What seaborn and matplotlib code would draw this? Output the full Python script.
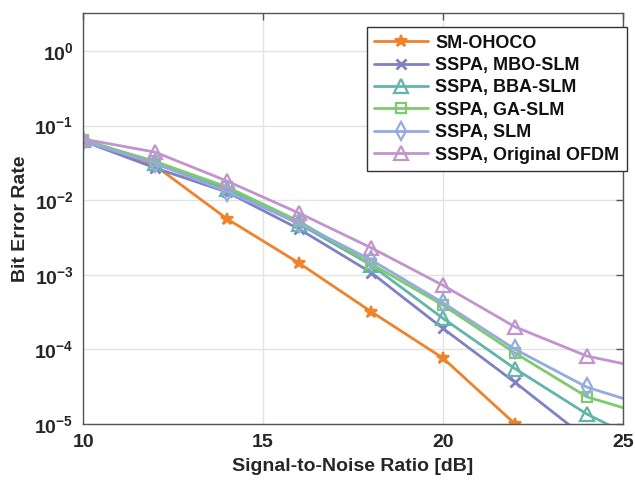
import numpy as np
import pandas as pd
import seaborn as sns
import matplotlib.pyplot as plt
from matplotlib.ticker import LogLocator, NullLocator, FixedLocator

snr = [10, 12, 14, 16, 18, 20, 22, 24, 26]

sm_ohoco = [0.064, 0.029, 5.6e-3, 1.43e-3, 3.2e-4, 7.6e-5, 1.0e-5, 1.0e-6, 1.0e-7]
mbo_slm = [0.062, 0.027, 0.0128, 4.1e-3, 1.07e-3, 1.9e-4, 3.6e-5, 6.3e-6, 1.0e-6]
bba_slm = [0.065, 0.031, 0.014, 4.8e-3, 1.35e-3, 2.6e-4, 5.5e-5, 1.35e-5, 4.5e-6]
ga_slm = [0.064, 0.033, 0.015, 5.2e-3, 1.4e-3, 3.9e-4, 8.9e-5, 2.3e-5, 1.18e-5]
slm = [0.062, 0.031, 0.013, 4.9e-3, 1.58e-3, 4.2e-4, 1.0e-4, 3.1e-5, 1.55e-5]
original = [0.066, 0.044, 0.018, 6.7e-3, 2.3e-3, 7.2e-4, 2.0e-4, 8.1e-5, 5.1e-5]

labels = ['SM-OHOCO', 'SSPA, MBO-SLM', 'SSPA, BBA-SLM', 'SSPA, GA-SLM',
          'SSPA, SLM', 'SSPA, Original OFDM']
series = [sm_ohoco, mbo_slm, bba_slm, ga_slm, slm, original]
colors = ['#F0822A', '#8080C4', '#62B5A8', '#7ECB6E', '#93ABDF', '#C294CF']
markers = ['*', 'x', '^', 's', 'd', '^']
msizes = [9, 7, 10, 7, 9, 10]

sns.set_style('whitegrid')
plt.rcParams['font.family'] = ['Liberation Sans', 'DejaVu Sans']
plt.rcParams['font.weight'] = 'bold'
plt.rcParams['mathtext.default'] = 'bf'

fig = plt.figure(figsize=(6.35, 4.8), dpi=100)
ax = fig.add_axes([0.131, 0.117, 0.850, 0.856])

for vals, lab, c, m, ms in zip(series, labels, colors, markers, msizes):
    df = pd.DataFrame({'snr': snr, 'ber': vals})
    filled = m == '*'
    sns.lineplot(data=df, x='snr', y='ber', ax=ax, color=c, linewidth=2,
                 marker=m, markersize=ms, label=lab,
                 markerfacecolor=c if filled else 'none',
                 markeredgecolor=c, markeredgewidth=2 if m == 'x' else 1.6)

ax.set_yscale('log')
ax.set_xlim(10, 25)
ax.set_ylim(1e-5, 10 ** 0.51)
ax.xaxis.set_major_locator(FixedLocator([10, 15, 20, 25]))
ax.yaxis.set_major_locator(LogLocator(base=10, numticks=10))
ax.yaxis.set_minor_locator(NullLocator())
ax.grid(True, color='#E3E3E3', linewidth=1)
for s in ax.spines.values():
    s.set_color('#555555')
    s.set_linewidth(1)
ax.tick_params(axis='both', direction='in', length=5, width=1, color='#555555',
               labelsize=14, top=True, right=True, pad=7, labelcolor='#262626')
ax.set_xlabel('Signal-to-Noise Ratio [dB]', fontsize=14, fontweight='bold',
              color='#262626', labelpad=5)
ax.set_ylabel('Bit Error Rate', fontsize=14, fontweight='bold', color='#262626',
              labelpad=4)

leg = ax.legend(loc='upper right', bbox_to_anchor=(1.007, 0.965), fontsize=13,
                frameon=True, fancybox=False, edgecolor='#333333', framealpha=1,
                handlelength=3, labelspacing=0.3, borderpad=0.4,
                handletextpad=0.4, borderaxespad=0)
leg.get_frame().set_linewidth(1)
for t in leg.get_texts():
    t.set_fontweight('bold')
    t.set_color('#111111')

fig.savefig('out.png', dpi=100)
